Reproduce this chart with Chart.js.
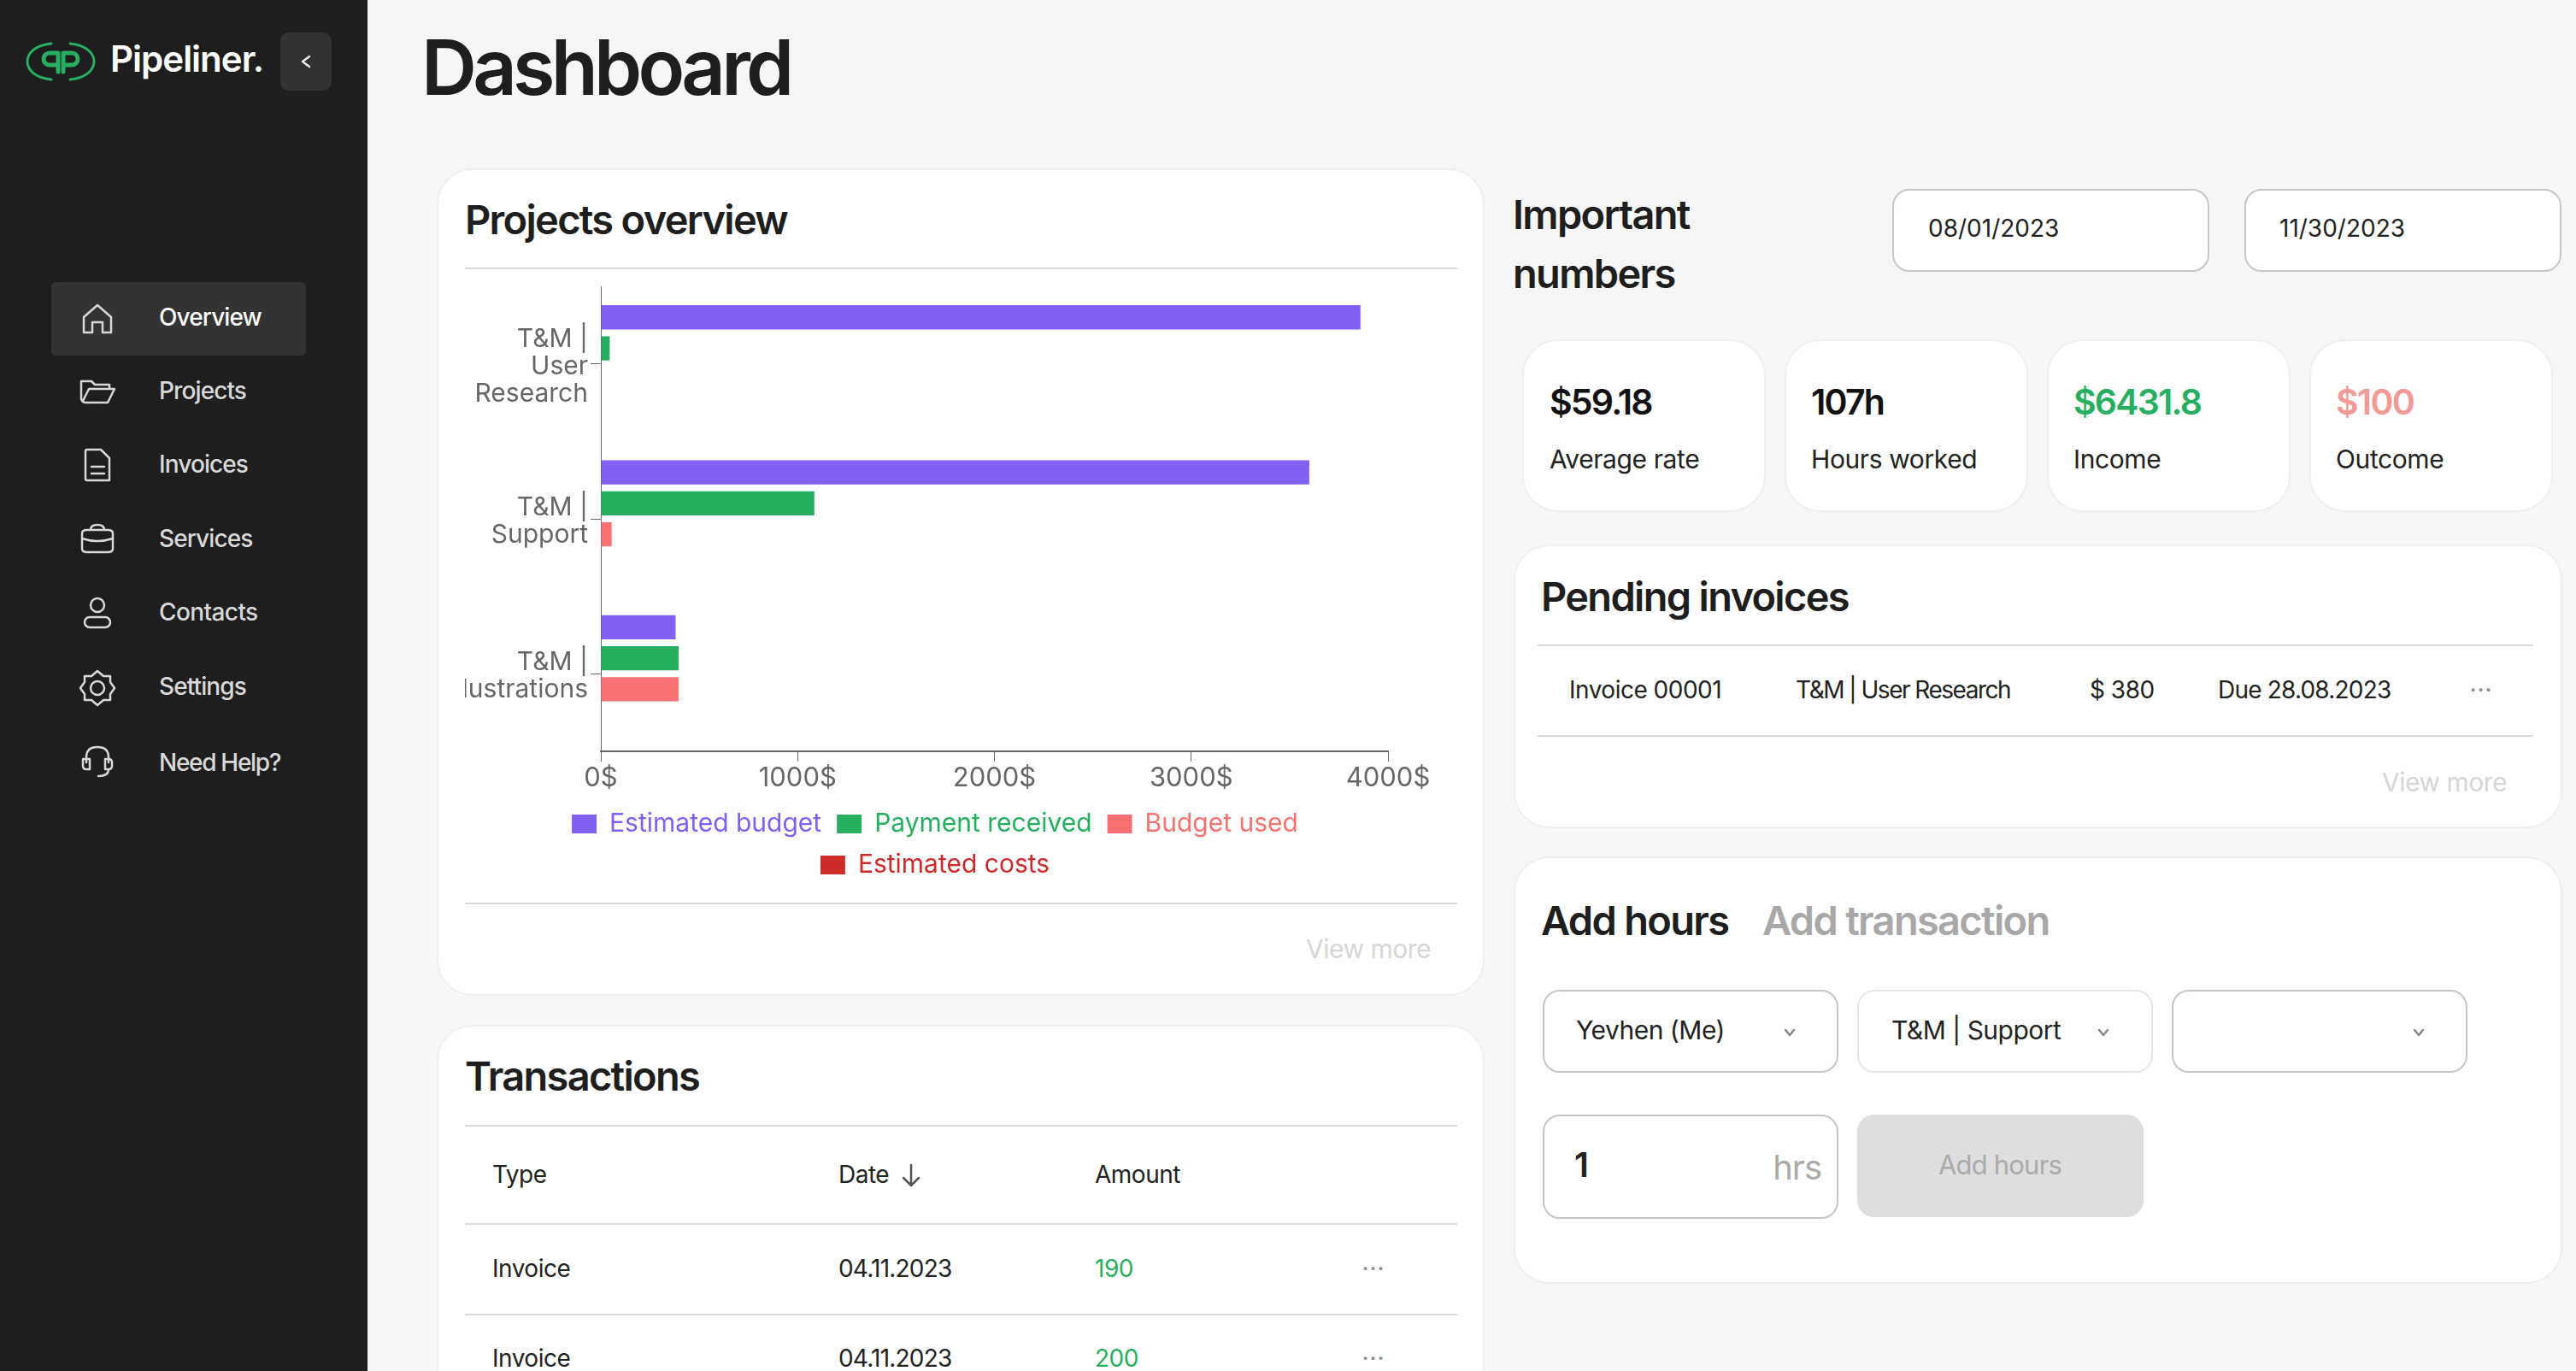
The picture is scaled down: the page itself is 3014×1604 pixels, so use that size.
<!DOCTYPE html>
<html>
<head>
<meta charset="utf-8">
<title>Dashboard</title>
<script src="https://cdn.jsdelivr.net/npm/chart.js@4"></script>
<style>
  html, body { margin: 0; padding: 0; }
  body { width: 3014px; height: 1604px; overflow: hidden; background: #f6f6f6; position: relative; font-family: Inter, sans-serif; color: #222; }
  .a { position: absolute; white-space: nowrap; line-height: 1; transform: translateY(-50%); }
  .box { position: absolute; box-sizing: border-box; background: #fff; }
  .card { border: 2px solid #efefef; border-radius: 42px; }
  .field { border: 2px solid #c6c6c6; border-radius: 20px; }
  .rule { position: absolute; height: 2px; background: #d9d9d9; }
  .h2 { font-size: 47px; font-weight: 600; letter-spacing: -1.7px; color: #1e1e1e; transform: translateY(-54%); }
  .txt { font-size: 28px; letter-spacing: -0.5px; }
  .lbl { font-size: 30px; letter-spacing: -0.4px; }
  .muted { font-size: 30px; letter-spacing: -0.5px; color: #d6d6d6; }
  .stat { font-size: 41px; font-weight: 600; letter-spacing: -1.8px; }
  .nav { font-size: 28px; font-weight: 500; letter-spacing: -0.9px; color: #d8d8d8; left: 186px; }
  .dots { color: #8a8a8a; font-size: 28px; letter-spacing: 1px; transform: translate(-50%, -50%); }
  svg { position: absolute; fill: none; stroke: #d8d8d8; stroke-width: 2.5; stroke-linecap: round; stroke-linejoin: round; }
  #sidebar { position: absolute; left: 0; top: 0; width: 430px; height: 1604px; background: #1e1e1e; }
  #chartClip { position: absolute; left: 544px; top: 335px; width: 1161px; height: 704px; overflow: hidden; }
  #barChart { position: absolute; left: -30px; top: 0; }
</style>
</head>
<body>
<div id="sidebar">
  <svg style="left:30px;top:48px" width="82" height="48" viewBox="0 0 82 48">
    <path d="M30 3 C 10 5 2 15 2 24 C 2 33 10 43 30 45" stroke="#27ae60" stroke-width="3"/>
    <path d="M52 3 C 72 5 80 15 80 24 C 80 33 72 43 52 45" stroke="#27ae60" stroke-width="3"/>
    <path d="M38 14 H28 a7 7 0 0 0 0 14 H38 M38 14 V36 M44 36 V14 H54 a7 7 0 0 1 0 14 H44" stroke="#27ae60" stroke-width="5"/>
  </svg>
  <div class="a" style="left:129px;top:69px;font-size:42px;font-weight:600;letter-spacing:-1px;color:#fff">Pipeliner.</div>
  <div style="position:absolute;left:328px;top:38px;width:60px;height:68px;border-radius:10px;background:#333"></div>
  <svg style="left:351px;top:64px" width="14" height="16" viewBox="0 0 14 16"><path d="M11 2 L3 8 L11 14" stroke="#eee"/></svg>
  <div style="position:absolute;left:60px;top:330px;width:298px;height:86px;border-radius:6px;background:#333"></div>

  <svg style="left:94px;top:353px" width="40" height="40" viewBox="0 0 40 40"><path d="M4 36 V18 L20 4 L36 18 V36 H26 V24 H14 V36 Z"/></svg>
  <div class="a nav" style="top:371px;color:#fff">Overview</div>
  <svg style="left:92px;top:441px" width="44" height="32" viewBox="0 0 44 32"><path d="M3 26 V5 H15 L19 9 H36 V13 M3 26 Q4 30 9 30 H34 L42 14 H12 L5 28"/></svg>
  <div class="a nav" style="top:457px">Projects</div>
  <svg style="left:98px;top:524px" width="32" height="40" viewBox="0 0 32 40"><path d="M4 2 H20 L30 12 V38 H4 Q2 38 2 36 V4 Q2 2 4 2 Z M9 22 H24 M9 30 H24"/></svg>
  <div class="a nav" style="top:543px">Invoices</div>
  <svg style="left:94px;top:612px" width="40" height="36" viewBox="0 0 40 36"><path d="M2 12 Q2 8 8 8 H32 Q38 8 38 12 V30 Q38 34 32 34 H8 Q2 34 2 30 Z M2 18 Q20 24 38 18 M12 8 Q12 2 20 2 Q28 2 28 8"/></svg>
  <div class="a nav" style="top:630px">Services</div>
  <svg style="left:97px;top:698px" width="34" height="38" viewBox="0 0 34 38"><circle cx="17" cy="10" r="8"/><rect x="2" y="24" width="30" height="12" rx="6"/></svg>
  <div class="a nav" style="top:716px;letter-spacing:-0.6px">Contacts</div>
  <svg style="left:92px;top:783px" width="44" height="44" viewBox="0 0 44 44"><path d="M22 2 L29 8 H37 V15 L42 22 L37 29 V36 H29 L22 42 L15 36 H7 V29 L2 22 L7 15 V8 H15 Z"/><circle cx="22" cy="22" r="8"/></svg>
  <div class="a nav" style="top:803px">Settings</div>
  <svg style="left:95px;top:872px" width="38" height="40" viewBox="0 0 38 40"><path d="M6 20 V14 Q6 2 19 2 Q32 2 32 14 V20 M2 16 H10 V28 H6 Q2 28 2 24 Z M28 16 H32 Q36 16 36 20 V24 Q36 28 32 28 H28 Z M32 28 Q32 36 20 36"/></svg>
  <div class="a nav" style="top:892px;letter-spacing:-1.3px">Need Help?</div>
</div>

<div class="a" style="left:493px;top:79px;font-size:90px;font-weight:600;letter-spacing:-4.8px;color:#1e1e1e">Dashboard</div>

<!-- projects overview -->
<div class="box card" style="left:511px;top:197px;width:1226px;height:968px"></div>
<div class="a h2" style="left:544px;top:258px">Projects overview</div>
<div class="rule" style="left:544px;top:313px;width:1161px"></div>
<div id="chartClip"><canvas id="barChart" width="1160" height="702" style="width:1160px;height:702px"></canvas></div>
<div class="rule" style="left:544px;top:1056px;width:1161px"></div>
<div class="a muted" style="right:1340px;top:1110px">View more</div>

<!-- transactions -->
<div class="box card" style="left:511px;top:1199px;width:1226px;height:500px"></div>
<div class="a h2" style="left:544px;top:1260px">Transactions</div>
<div class="rule" style="left:544px;top:1316px;width:1161px"></div>
<div class="a txt" style="left:576px;top:1374px">Type</div>
<div class="a txt" style="left:981px;top:1374px">Date</div>
<svg style="left:1054px;top:1361px;stroke:#555" width="24" height="28" viewBox="0 0 24 28"><path d="M12 2 V26 M3 17 L12 26 L21 17"/></svg>
<div class="a txt" style="left:1281px;top:1374px">Amount</div>
<div class="rule" style="left:544px;top:1431px;width:1161px"></div>
<div class="a txt" style="left:576px;top:1484px">Invoice</div>
<div class="a txt" style="left:981px;top:1484px;letter-spacing:-0.8px">04.11.2023</div>
<div class="a txt" style="left:1281px;top:1484px;color:#27ae60">190</div>
<div class="a dots" style="left:1607px;top:1484px">···</div>
<div class="rule" style="left:544px;top:1537px;width:1161px"></div>
<div class="a txt" style="left:576px;top:1589px">Invoice</div>
<div class="a txt" style="left:981px;top:1589px;letter-spacing:-0.8px">04.11.2023</div>
<div class="a txt" style="left:1281px;top:1589px;color:#27ae60">200</div>
<div class="a dots" style="left:1607px;top:1589px">···</div>

<!-- important numbers -->
<div class="a h2" style="left:1770px;top:252px">Important</div>
<div class="a h2" style="left:1770px;top:321px">numbers</div>
<div class="box field" style="left:2214px;top:221px;width:371px;height:97px"></div>
<div class="a txt" style="left:2256px;top:267px;letter-spacing:0">08/01/2023</div>
<div class="box field" style="left:2626px;top:221px;width:371px;height:97px"></div>
<div class="a txt" style="left:2667px;top:267px;letter-spacing:0">11/30/2023</div>

<div class="box card" style="left:1781px;top:397px;width:285px;height:202px"></div>
<div class="a stat" style="left:1813px;top:470px;color:#111">$59.18</div>
<div class="a lbl" style="left:1813px;top:537px">Average rate</div>
<div class="box card" style="left:2088px;top:397px;width:285px;height:202px"></div>
<div class="a stat" style="left:2119px;top:470px;color:#111">107h</div>
<div class="a lbl" style="left:2119px;top:537px">Hours worked</div>
<div class="box card" style="left:2395px;top:397px;width:285px;height:202px"></div>
<div class="a stat" style="left:2426px;top:470px;color:#27ae60">$6431.8</div>
<div class="a lbl" style="left:2426px;top:537px">Income</div>
<div class="box card" style="left:2702px;top:397px;width:285px;height:202px"></div>
<div class="a stat" style="left:2733px;top:470px;color:#f29a96">$100</div>
<div class="a lbl" style="left:2733px;top:537px">Outcome</div>

<!-- pending invoices -->
<div class="box card" style="left:1771px;top:637px;width:1227px;height:332px"></div>
<div class="a h2" style="left:1803px;top:699px">Pending invoices</div>
<div class="rule" style="left:1799px;top:754px;width:1165px"></div>
<div class="a txt" style="left:1836px;top:807px">Invoice 00001</div>
<div class="a txt" style="left:2101px;top:807px;letter-spacing:-1.5px">T&amp;M | User Research</div>
<div class="a txt" style="left:2445px;top:807px">$ 380</div>
<div class="a txt" style="left:2595px;top:807px;letter-spacing:-0.8px">Due 28.08.2023</div>
<div class="a dots" style="left:2903px;top:807px">···</div>
<div class="rule" style="left:1799px;top:860px;width:1165px"></div>
<div class="a muted" style="right:81px;top:915px">View more</div>

<!-- add hours -->
<div class="box card" style="left:1771px;top:1002px;width:1227px;height:500px"></div>
<div class="a h2" style="left:1803px;top:1078px">Add hours</div>
<div class="a h2" style="left:2062px;top:1078px;color:#a8a8a8">Add transaction</div>
<div class="box field" style="left:1805px;top:1158px;width:346px;height:97px"></div>
<div class="a txt" style="left:1844px;top:1205px;font-size:30px">Yevhen (Me)</div>
<svg style="left:2087px;top:1203px;stroke:#888" width="14" height="10" viewBox="0 0 14 10"><path d="M2 2 L7 8 L12 2"/></svg>
<div class="box field" style="left:2173px;top:1158px;width:346px;height:97px;border-color:#e6e6e6"></div>
<div class="a txt" style="left:2213px;top:1205px;font-size:30px">T&amp;M | Support</div>
<svg style="left:2454px;top:1203px;stroke:#888" width="14" height="10" viewBox="0 0 14 10"><path d="M2 2 L7 8 L12 2"/></svg>
<div class="box field" style="left:2541px;top:1158px;width:346px;height:97px"></div>
<svg style="left:2823px;top:1203px;stroke:#888" width="14" height="10" viewBox="0 0 14 10"><path d="M2 2 L7 8 L12 2"/></svg>
<div class="box field" style="left:1805px;top:1304px;width:346px;height:122px"></div>
<div class="a" style="left:1842px;top:1363px;font-size:40px;font-weight:600">1</div>
<div class="a" style="right:883px;top:1366px;font-size:40px;color:#aaa;letter-spacing:-1px">hrs</div>
<div class="box" style="left:2173px;top:1304px;width:335px;height:120px;border-radius:20px;background:#dedede"></div>
<div class="a" style="left:2340px;top:1362px;font-size:31px;color:#aaa;letter-spacing:-0.8px;transform:translate(-50%,-50%)">Add hours</div>

<script>
  const categories = [
    ['T&M |', 'User', 'Research'],
    ['T&M |', 'Support'],
    ['T&M |', 'Illustrations']
  ];
  const estimatedBudget = [3860, 3600, 380];
  const paymentReceived = [45, 1085, 395];
  const budgetUsed = [0, 55, 395];
  const estimatedCosts = [0, 0, 0];
  const xTickLabels = ['0$', '1000$', '2000$', '3000$', '4000$'];

  const ctx = document.getElementById('barChart').getContext('2d');
  new Chart(ctx, {
    type: 'bar',
    data: {
      labels: categories,
      datasets: [
        { label: 'Estimated budget', data: estimatedBudget, backgroundColor: '#825ff5' },
        { label: 'Payment received', data: paymentReceived, backgroundColor: '#27ae60' },
        { label: 'Budget used', data: budgetUsed, backgroundColor: '#f87272' },
        { label: 'Estimated costs', data: estimatedCosts, backgroundColor: '#cd2a2a' }
      ]
    },
    options: {
      indexAxis: 'y',
      responsive: false,
      animation: false,
      barPercentage: 0.78,
      layout: { padding: 0 },
      scales: {
        x: {
          min: 0,
          max: 4000,
          afterFit: (scale) => { scale.height = 52; scale.paddingRight = 50; },
          border: { color: '#666', width: 2 },
          grid: { drawOnChartArea: false, color: '#666', tickLength: 12 },
          ticks: {
            stepSize: 1000,
            padding: 1,
            maxRotation: 0,
            color: '#666',
            font: { family: 'Inter', size: 31 },
            callback: (value, index) => xTickLabels[index]
          }
        },
        y: {
          // the multi line labels would otherwise push the plot area down
          afterFit: (scale) => { scale.width = 189; scale.paddingTop = 0; scale.paddingBottom = 0; },
          border: { color: '#666' },
          grid: { drawOnChartArea: false, offset: false, color: '#666', tickLength: 12 },
          ticks: {
            padding: 3,
            labelOffset: 3,
            color: '#666',
            font: { family: 'Inter', size: 30, lineHeight: 1.07 }
          }
        }
      },
      plugins: {
        tooltip: { enabled: false },
        legend: {
          position: 'bottom',
          labels: {
            boxWidth: 29,
            boxHeight: 22,
            padding: 18,
            font: { family: 'Inter', size: 30 },
            generateLabels: (chart) => Chart.defaults.plugins.legend.labels.generateLabels(chart).map((item) => {
              item.fontColor = item.fillStyle;
              item.lineWidth = 0;
              return item;
            })
          }
        }
      }
    }
  });
</script>
</body>
</html>
